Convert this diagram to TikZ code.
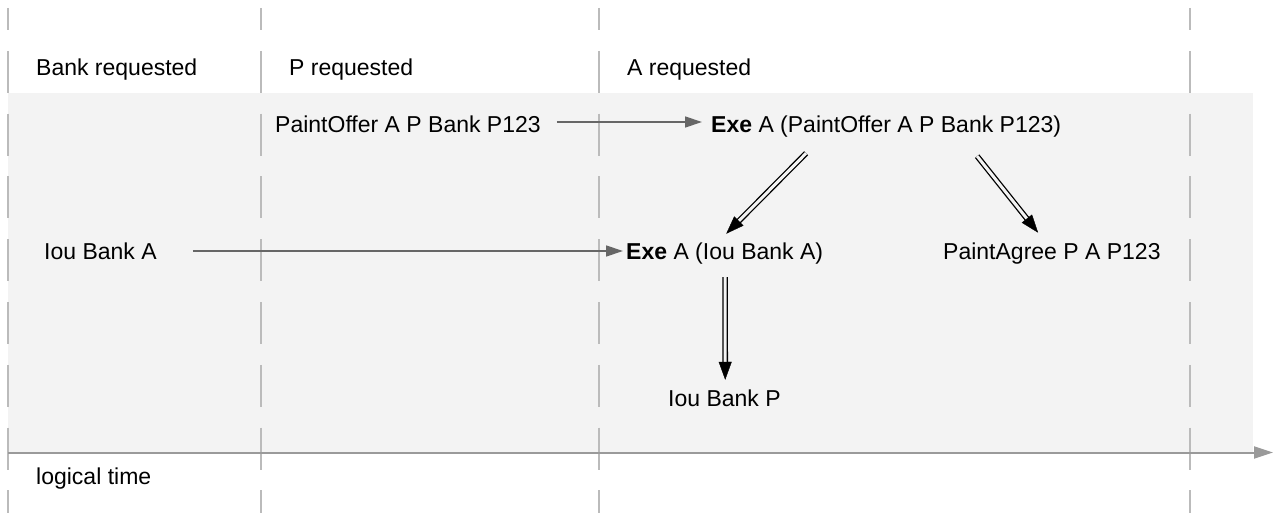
\documentclass[tikz,border=0pt]{standalone}
\usepackage{fontspec}
\setmainfont{Liberation Sans}
\usetikzlibrary{arrows.meta,decorations.markings}
\definecolor{bgc}{HTML}{F3F3F3}
\definecolor{dashc}{HTML}{BBBBBB}
\definecolor{axisc}{HTML}{9A9A9A}
\definecolor{arrc}{HTML}{666666}
\begin{document}
\begin{tikzpicture}[x=1pt,y=1pt,
  txt/.style={inner sep=0pt, anchor=base west, text height=17pt, text depth=5pt,
              font=\fontsize{23}{27}\selectfont},
  vline/.style={draw=dashc, line width=2pt, dash pattern=on 42pt off 20.8pt, dash phase=20pt},
  axisline/.style={draw=axisc, line width=2pt, -{Triangle[length=19pt,width=12pt]}},
  thinarrow/.style={draw=arrc, line width=1.3pt, -{Triangle[length=17pt,width=11pt]}},
  dbl/.style={draw=black, line width=1.3pt, double=bgc, double distance=3pt, shorten >=16pt},
  dtip/.style={decorate, decoration={markings,
     mark=at position 1 with {\arrow[black]{Triangle[length=18pt,width=13pt]}}}}
]
\useasboundingbox (0,0) rectangle (1274,-513);
\fill[bgc] (8,-93) rectangle (1253,-452.5);
\foreach \x in {8,261,599,1190} \draw[vline] (\x,-8) -- (\x,-513);
\coordinate (t0) at (8,-452.5);
\coordinate (t1) at (1273,-452.5);
\draw[axisline] (t0) -- (t1);

\node[txt] (h1) at (36,-76) {Bank requested};
\node[txt] (h2) at (289,-76) {P requested};
\node[txt] (h3) at (627,-76) {A requested};
\node[txt] (po) at (275,-133) {PaintOffer A P Bank P123};
\node[txt] (e1) at (711,-133) {\textbf{Exe} A (PaintOffer A P Bank P123)};
\node[txt] (ia) at (44,-259) {Iou Bank A};
\node[txt] (e2) at (626,-259) {\textbf{Exe} A (Iou Bank A)};
\node[txt] (pa) at (943,-259) {PaintAgree P A P123};
\node[txt] (ip) at (668,-406) {Iou Bank P};
\node[txt] (lt) at (36,-484) {logical time};

\draw[thinarrow] ([xshift=16pt,yshift=5pt]po.east) -- ([xshift=-9pt,yshift=5pt]e1.west);
\draw[thinarrow] ([xshift=36pt,yshift=2pt]ia.east) -- ([xshift=-3pt,yshift=2pt]e2.west);

\draw[dbl] ([xshift=-80pt,yshift=-15pt]e1.south) -- ([xshift=1.5pt,yshift=8pt]e2.north);
\path[dtip] ([xshift=-80pt,yshift=-15pt]e1.south) -- ([xshift=1.5pt,yshift=8pt]e2.north);
\draw[dbl] ([xshift=91pt,yshift=-18pt]e1.south) -- ([xshift=-13.7pt,yshift=9pt]pa.north);
\path[dtip] ([xshift=91pt,yshift=-18pt]e1.south) -- ([xshift=-13.7pt,yshift=9pt]pa.north);
\draw[dbl] ([xshift=0.5pt,yshift=-13pt]e2.south) -- ([xshift=0.75pt,yshift=9pt]ip.north);
\path[dtip] ([xshift=0.5pt,yshift=-13pt]e2.south) -- ([xshift=0.75pt,yshift=9pt]ip.north);
\end{tikzpicture}
\end{document}
